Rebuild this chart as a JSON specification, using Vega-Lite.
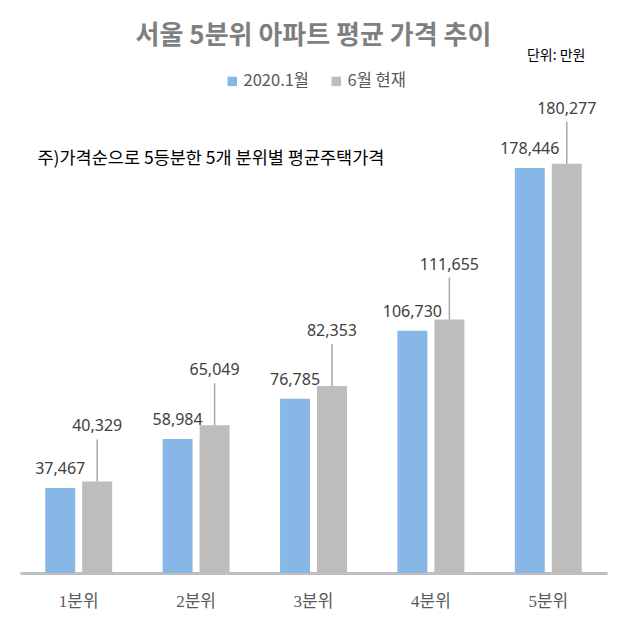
{
  "$schema": "https://vega.github.io/schema/vega-lite/v6.json",
  "width": 587,
  "height": 454,
  "autosize": "none",
  "padding": {"left": 20, "top": 119, "right": 18, "bottom": 45},
  "background": "white",
  "title": {
    "text": "서울 5분위 아파트 평균 가격 추이",
    "font": "Noto Sans CJK KR",
    "fontSize": 26,
    "fontWeight": "bold",
    "color": "#7f7f7f",
    "anchor": "middle",
    "frame": "group",
    "offset": -1
  },
  "data": {
    "values": [
      {"quintile": "1분위", "series": "2020.1월", "value": 37467},
      {"quintile": "1분위", "series": "6월 현재", "value": 40329},
      {"quintile": "2분위", "series": "2020.1월", "value": 58984},
      {"quintile": "2분위", "series": "6월 현재", "value": 65049},
      {"quintile": "3분위", "series": "2020.1월", "value": 76785},
      {"quintile": "3분위", "series": "6월 현재", "value": 82353},
      {"quintile": "4분위", "series": "2020.1월", "value": 106730},
      {"quintile": "4분위", "series": "6월 현재", "value": 111655},
      {"quintile": "5분위", "series": "2020.1월", "value": 178446},
      {"quintile": "5분위", "series": "6월 현재", "value": 180277}
    ]
  },
  "encoding": {
    "x": {
      "field": "quintile",
      "type": "nominal",
      "sort": null,
      "scale": {"paddingInner": 0.43, "paddingOuter": 0.215},
      "axis": {
        "labelAngle": 0,
        "labelFont": "Liberation Serif, Noto Sans CJK KR",
        "labelFontSize": 17,
        "labelColor": "#595959",
        "labelPadding": 20,
        "ticks": false,
        "domainColor": "#bfbfbf",
        "domainWidth": 3,
        "title": "단위: 만원",
        "titleFont": "Noto Sans CJK KR",
        "titleFontSize": 14,
        "titleFontWeight": "normal",
        "titleColor": "#000000",
        "titleAlign": "right",
        "titleBaseline": "middle",
        "titleX": 565,
        "titleY": -518
      }
    },
    "xOffset": {
      "field": "series",
      "sort": null,
      "scale": {"paddingInner": 0.19, "paddingOuter": 0}
    },
    "y": {
      "field": "value",
      "type": "quantitative",
      "scale": {"domain": [0, 200000]},
      "axis": {
        "labels": false,
        "ticks": false,
        "domain": false,
        "grid": false,
        "title": "주)가격순으로 5등분한 5개 분위별 평균주택가격",
        "titleFont": "Noto Sans CJK KR",
        "titleFontSize": 17.5,
        "titleFontWeight": "normal",
        "titleColor": "#000000",
        "titleAngle": 0,
        "titleAlign": "left",
        "titleBaseline": "middle",
        "titleX": 17,
        "titleY": 39
      }
    }
  },
  "layer": [
    {
      "mark": {"type": "bar"},
      "encoding": {
        "color": {
          "field": "series",
          "type": "nominal",
          "sort": null,
          "scale": {"range": ["#86b7e6", "#bdbdbd"]},
          "legend": {
            "title": null,
            "orient": "none",
            "direction": "horizontal",
            "legendX": 204,
            "legendY": -46,
            "symbolType": "square",
            "symbolSize": 90,
            "symbolStrokeWidth": 0,
            "labelFont": "Noto Sans CJK KR",
            "labelFontSize": 16.5,
            "labelColor": "#595959",
            "labelOffset": 3,
            "columnPadding": 18
          }
        }
      }
    },
    {
      "transform": [{"filter": "datum.series === '2020.1월'"}],
      "mark": {"type": "text", "dy": -19, "baseline": "middle", "font": "Noto Sans", "fontSize": 16, "color": "#404040"},
      "encoding": {"text": {"field": "value", "type": "quantitative", "format": ","}}
    },
    {
      "transform": [{"filter": "datum.series === '6월 현재'"}],
      "mark": {"type": "rule", "y2Offset": -42, "color": "#a6a6a6", "strokeWidth": 1.5},
      "encoding": {"y2": {"field": "value"}}
    },
    {
      "transform": [{"filter": "datum.series === '6월 현재'"}],
      "mark": {"type": "text", "dy": -55, "baseline": "middle", "font": "Noto Sans", "fontSize": 16, "color": "#404040"},
      "encoding": {"text": {"field": "value", "type": "quantitative", "format": ","}}
    }
  ],
  "config": {"view": {"stroke": null}}
}
